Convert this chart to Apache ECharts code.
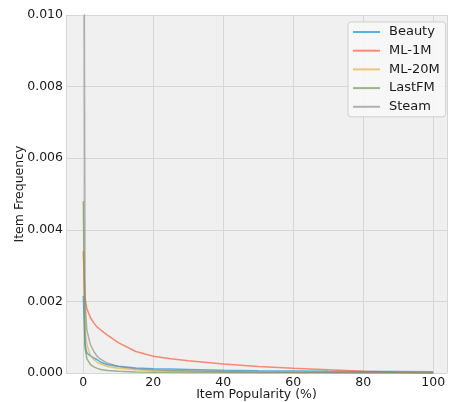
<!DOCTYPE html>
<html>
<head>
<meta charset="utf-8">
<script src="https://cdn.jsdelivr.net/npm/echarts@6/dist/echarts.min.js"></script>
<style>
  html, body { margin: 0; padding: 0; background: #fff; }
  #main { width: 454px; height: 402px; }
</style>
</head>
<body>
<div id="main"></div>
<script>
// popularity percentiles (x) and frequency per dataset
var popularity = [0, 0.5, 1, 2, 3, 4, 5, 7, 10, 15, 20, 25, 30, 40, 50, 60, 70, 80, 90, 100];
var beauty = [0.00215, 0.0008, 0.00056, 0.00048, 0.00042, 0.00037, 0.0003, 0.00023, 0.00019, 0.00014, 0.00012, 0.00011, 0.0001, 0.00008, 0.000065, 0.000058, 0.00005, 0.000045, 0.00004, 0.000035];
var ml1m = [0.0034, 0.0021, 0.0018, 0.00155, 0.0014, 0.00128, 0.0012, 0.00105, 0.00085, 0.0006, 0.00047, 0.0004, 0.00034, 0.00025, 0.00018, 0.00013, 0.00009, 0.00005, 0.00002, 0.00001];
var ml20m = [0.0034, 0.0012, 0.0008, 0.0005, 0.00037, 0.0003, 0.00025, 0.00018, 0.00013, 0.00009, 0.00007, 0.00006, 0.00005, 0.00004, 0.00003, 0.00002, 0.000015, 0.00001, 0.000005, 0.000002];
var lastfm = [0.0048, 0.0007, 0.0004, 0.00024, 0.00017, 0.00013, 0.0001, 0.00007, 0.00005, 0.00003, 0.00002, 0.000018, 0.000015, 0.000012, 0.00001, 0.000008, 0.000006, 0.000005, 0.000004, 0.000003];
var steam = [0.022, 0.002, 0.0012, 0.0008, 0.0006, 0.00046, 0.00038, 0.00027, 0.00018, 0.00012, 0.00009, 0.00007, 0.00006, 0.00004, 0.00003, 0.00002, 0.000015, 0.00001, 0.000006, 0.000003];
var names = ['Beauty', 'ML-1M', 'ML-20M', 'LastFM', 'Steam'];
var colors = ['#008fd5', '#fc4f30', '#e5ae38', '#6d904f', '#8b8b8b'];

var myChart = echarts.init(document.getElementById('main'));

function pairs(vals) {
  return popularity.map(function (x, i) { return [x, vals[i]]; });
}

var allVals = [beauty, ml1m, ml20m, lastfm, steam];
var series = names.map(function (n, i) {
  return {
    name: n,
    type: 'line',
    data: pairs(allVals[i]),
    symbol: 'none',
    clip: true,
    color: colors[i],
    lineStyle: { width: 1.5, opacity: 0.65 },
    itemStyle: { opacity: 0.65 }
  };
});

var option = {
  animation: false,
  textStyle: { fontFamily: 'DejaVu Sans' },
  grid: {
    left: 66, right: 7, top: 15, bottom: 29,
    outerBoundsMode: 'none', containLabel: false,
    show: true, backgroundColor: '#f0f0f0', borderWidth: 0
  },
  legend: {
    orient: 'vertical',
    left: 348, top: 22,
    padding: [3, 6, 3, 5],
    backgroundColor: 'rgba(247,247,247,0.9)',
    borderColor: '#d0d0d0', borderWidth: 1, borderRadius: 3,
    icon: 'rect',
    itemWidth: 27, itemHeight: 2,
    itemGap: 4.7,
    textStyle: { fontSize: 13, color: '#1a1a1a', lineHeight: 14, padding: [0, 0, 0, 4] },
    data: names
  },
  xAxis: {
    type: 'value',
    min: -4.95, max: 103.95,
    splitNumber: 5,
    name: 'Item Popularity (%)',
    nameLocation: 'middle', nameGap: 15, nameMoveOverlap: false,
    nameTextStyle: { fontSize: 12.5, color: '#1a1a1a' },
    axisLine: { show: false }, axisTick: { show: false },
    axisLabel: { fontSize: 12.5, color: '#1a1a1a', margin: 3, showMinLabel: false, showMaxLabel: false },
    splitLine: { show: true, lineStyle: { color: '#d6d6d6', width: 1 } }
  },
  yAxis: {
    type: 'value',
    min: 0, max: 0.01, interval: 0.002,
    name: 'Item Frequency',
    nameLocation: 'middle', nameGap: 40, nameMoveOverlap: false,
    nameTextStyle: { fontSize: 12.5, color: '#1a1a1a' },
    axisLine: { show: false }, axisTick: { show: false },
    axisLabel: { fontSize: 12.5, color: '#1a1a1a', margin: 3,
      formatter: function (v) { return v.toFixed(3); } },
    splitLine: { show: true, lineStyle: { color: '#d6d6d6', width: 1 } }
  },
  series: series
};

myChart.setOption(option);
</script>
</body>
</html>
